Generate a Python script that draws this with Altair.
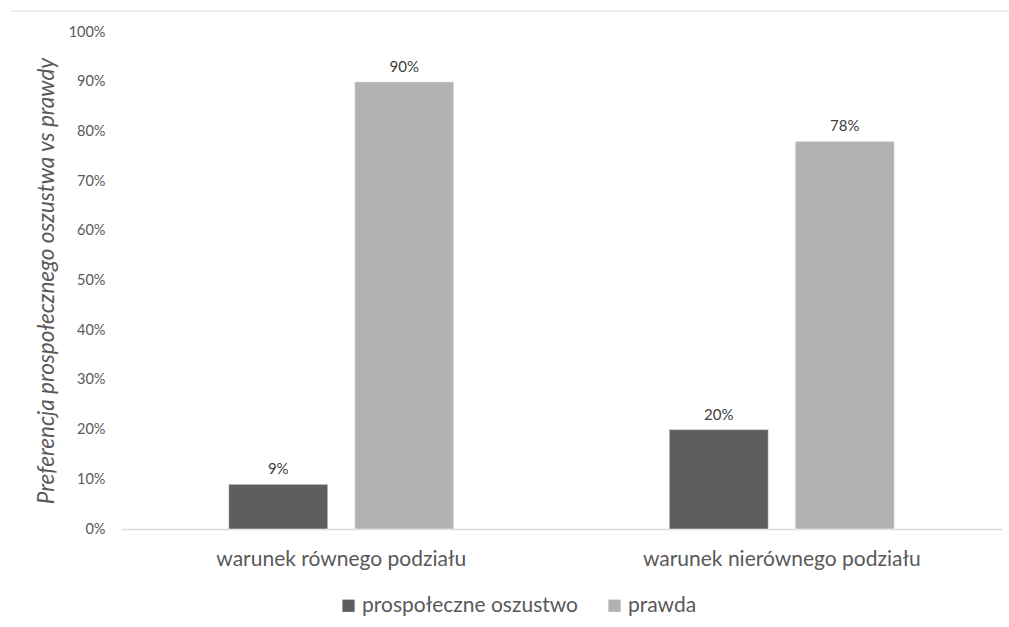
import altair as alt
import pandas as pd

categories = ["warunek równego podziału", "warunek równego podziału",
              "warunek nierównego podziału", "warunek nierównego podziału"]
series = ["prospołeczne oszustwo", "prawda", "prospołeczne oszustwo", "prawda"]
values = [0.09, 0.90, 0.20, 0.78]
labels = ["9%", "90%", "20%", "78%"]

cat_order = ["warunek równego podziału", "warunek nierównego podziału"]
ser_order = ["prospołeczne oszustwo", "prawda"]
colors = ["#5e5e5e", "#b2b2b2"]

df = pd.DataFrame({"cat": categories, "ser": series, "val": values, "lab": labels})

FONT = "Lato"
TXT = "#595959"

x = alt.X("cat:N", sort=cat_order, title=None,
          scale=alt.Scale(paddingInner=0, paddingOuter=0),
          axis=alt.Axis(labelAngle=0, labelFontSize=21, labelColor=TXT, labelFont=FONT,
                        labelLimit=0, labelPadding=19, ticks=False,
                        domainColor="#d9d9d9", domainWidth=1.5))
xo = alt.XOffset("ser:N", sort=ser_order,
                 scale=alt.Scale(paddingInner=0.214, paddingOuter=0.855))
y = alt.Y("val:Q", title="Preferencja prospołecznego oszustwa vs prawdy",
          scale=alt.Scale(domain=[0, 1]),
          axis=alt.Axis(format=".0%", values=[i / 10 for i in range(11)], grid=False,
                        domain=False, ticks=False, labelFontSize=14.5, labelColor=TXT,
                        labelFont=FONT, labelPadding=16, titleFont=FONT, titleFontSize=22.5,
                        titleFontStyle="italic", titleFontWeight="normal", titleColor=TXT,
                        titlePadding=10))

bars = alt.Chart(df).mark_bar(stroke="white", strokeWidth=0.5).encode(
    x=x, xOffset=xo, y=y,
    color=alt.Color("ser:N", sort=ser_order, title=None,
                    scale=alt.Scale(domain=ser_order, range=colors),
                    legend=alt.Legend(orient="none", legendX=217, legendY=563,
                                      direction="horizontal", symbolType="square",
                                      symbolSize=150, symbolStrokeWidth=0,
                                      labelFontSize=21, labelColor=TXT, labelFont=FONT,
                                      labelLimit=0, columnPadding=25, labelOffset=3)),
)

text = alt.Chart(df).mark_text(dy=-15, fontSize=15, color="#404040", font=FONT).encode(
    x=alt.X("cat:N", sort=cat_order), xOffset=alt.XOffset("ser:N", sort=ser_order),
    y="val:Q", text="lab:N",
)

border = alt.Chart(df).mark_rule(color="#eeeeee", strokeWidth=1).encode(
    x=alt.value(-111), x2=alt.value(890), y=alt.value(-21)
)

chart = (bars + text + border).properties(
    width=881, height=497,
    background="white",
    autosize=alt.AutoSizeParams(type="none"),
    padding={"left": 121, "top": 32, "right": 7, "bottom": 98},
).configure_view(strokeWidth=0, stroke=None)

chart.save("out.html", embed_options={"renderer": "svg", "actions": False})
